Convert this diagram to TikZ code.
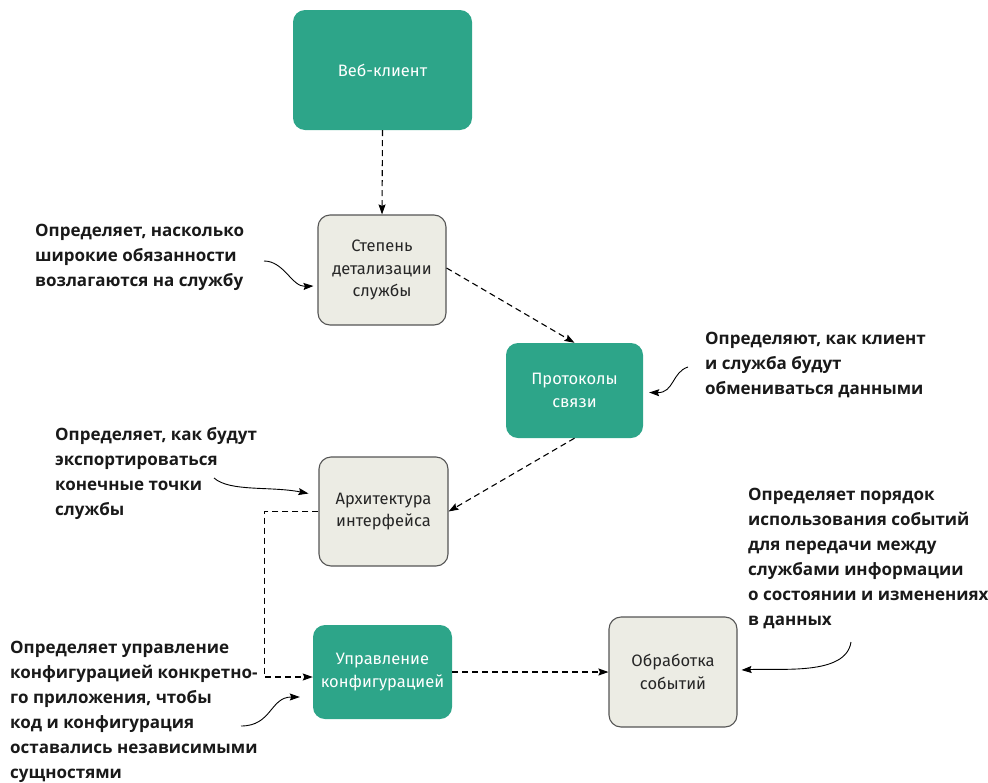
\documentclass[tikz,border=0pt]{standalone}
\usepackage{fontspec}
\setmainfont{Fira Sans}
\newfontfamily\notefont{Open Sans}
\usetikzlibrary{arrows.meta,calc}
\definecolor{teal}{HTML}{2DA589}
\definecolor{paper}{HTML}{ECECE4}
\definecolor{rim}{HTML}{555555}
\tikzset{
  box/.style={rounded corners=12pt, align=center, inner sep=0pt,
    font=\fontsize{16.5}{22.5}\selectfont},
  tealbox/.style={box, fill=teal, text=white},
  greybox/.style={box, fill=paper, draw=rim, line width=1.1pt, text=black!85},
  flow/.style={line width=1.1pt, dash pattern=on 6pt off 4pt,
    -{Stealth[length=10pt,width=7pt,inset=1.5pt]}},
  hint/.style={line width=0.9pt,
    -{Stealth[length=10pt,width=7pt,inset=1.5pt]}},
  note/.style={anchor=north west, align=left, inner sep=0pt,
    font=\notefont\fontsize{17}{25}\selectfont\bfseries, text=black!90}
}
\begin{document}
\begin{tikzpicture}[x=1pt,y=-1pt]
\useasboundingbox (0,0) rectangle (988,782);

% service design nodes
\node[tealbox, minimum width=179pt, minimum height=120pt] (web) at (382.5,70) {Веб-клиент};
\node[greybox, minimum width=128pt, minimum height=110pt] (gran) at (382,270) {Степень\\детализации\\службы};
\node[tealbox, minimum width=137pt, minimum height=95pt] (proto) at (574.5,390.5) {Протоколы\\связи};
\node[greybox, minimum width=129pt, minimum height=109pt] (arch) at (383.5,511.5) {Архитектура\\интерфейса};
\node[tealbox, minimum width=139pt, minimum height=94pt] (conf) at (382.5,672) {Управление\\конфигурацией};
\node[greybox, minimum width=128pt, minimum height=110pt] (evt) at (673,672) {Обработка\\событий};

% flow between the nodes
\draw[flow] (web.south) -- (gran.north);
\draw[flow] ($(gran.east)+(0,-2)$) -- (proto.north);
\draw[flow] (proto.south) -- (arch.east);
\draw[flow] (arch.west) -- ++(-54,0) |- ($(conf.west)+(0,5)$);
\draw[flow] (conf.east) -- (evt.west);

% explanatory notes
\node[note] (n1) at (35,224) {Определяет, насколько\\широкие обязанности\\возлагаются на службу};
\node[note] (n2) at (705,332) {Определяют, как клиент\\и служба будут\\обмениваться данными};
\node[note] (n3) at (55,427) {Определяет, как будут\\экспортироваться\\конечные точки\\службы};
\node[note] (n4) at (748,488) {Определяет порядок\\использования событий\\для передачи между\\службами информации\\о состоянии и изменениях\\в данных};
\node[note] (n5) at (10,641) {Определяет управление\\конфигурацией конкретно-\\го приложения, чтобы\\код и конфигурация\\оставались независимыми\\сущностями};

\coordinate (s1) at (264,261);
\coordinate (s2) at (688,367);
\coordinate (s3) at (214,478);
\coordinate (s4) at (851,642);
\coordinate (s5) at (241,726);

\draw[hint] (s1) .. controls (284,261) and (292,287) .. ($(gran.west)+(-4,16)$);
\draw[hint] (s2) .. controls (672,372) and (674,393) .. ($(proto.east)+(6,2)$);
\draw[hint] (s3) .. controls (230,492) and (270,486) .. ($(arch.west)+(-10,-18)$);
\draw[hint] (s4) .. controls (846,676) and (780,668) .. ($(evt.east)+(4,-2)$);
\draw[hint] (s5) .. controls (272,726) and (270,697) .. ($(conf.west)+(-13,25)$);
\end{tikzpicture}
\end{document}
